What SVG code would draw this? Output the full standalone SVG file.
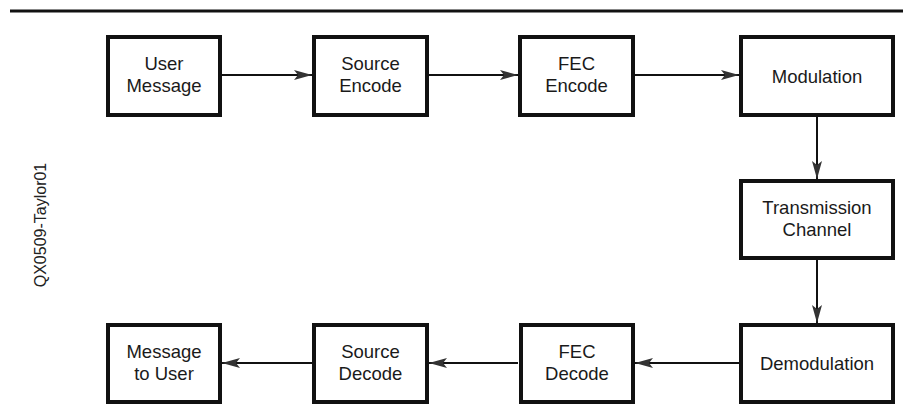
<svg xmlns="http://www.w3.org/2000/svg" width="903" height="420" viewBox="0 0 903 420">
  <style>
    .box { fill: #ffffff; stroke: #111111; stroke-width: 4; }
    .lbl { font-family: "Liberation Sans", Arial, sans-serif; font-size: 18.5px; fill: #1a1a1a; text-anchor: middle; }
    .wire { stroke: #111111; stroke-width: 2; fill: none; }
    .tag { font-family: "Liberation Sans", Arial, sans-serif; font-size: 16px; fill: #222222; text-anchor: middle; }
  </style>
  <defs>
    <marker id="arrow" viewBox="0 0 18 10" refX="18" refY="5" markerWidth="18" markerHeight="10" markerUnits="userSpaceOnUse" orient="auto">
      <path d="M0,0 L18,5 L0,10 L4,5 Z" fill="#333333"/>
    </marker>
  </defs>

  <rect width="903" height="420" fill="#ffffff"/>
  <!-- header rule -->
  <line x1="10" y1="11" x2="903" y2="11" stroke="#111111" stroke-width="3"/>

  <!-- figure tag -->
  <text class="tag" transform="translate(46,225) rotate(-90)">QX0509-Taylor01</text>

  <!-- connectors -->
  <g id="connectors">
    <line class="wire" x1="221" y1="75" x2="312" y2="75" marker-end="url(#arrow)"/>
    <line class="wire" x1="428" y1="75" x2="518" y2="75" marker-end="url(#arrow)"/>
    <line class="wire" x1="634" y1="75" x2="739" y2="75" marker-end="url(#arrow)"/>
    <line class="wire" x1="817" y1="116" x2="817" y2="179" marker-end="url(#arrow)"/>
    <line class="wire" x1="817" y1="259" x2="817" y2="323" marker-end="url(#arrow)"/>
    <line class="wire" x1="739" y1="363" x2="635" y2="363" marker-end="url(#arrow)"/>
    <line class="wire" x1="518" y1="363" x2="429" y2="363" marker-end="url(#arrow)"/>
    <line class="wire" x1="312" y1="363" x2="222" y2="363" marker-end="url(#arrow)"/>
  </g>

  <!-- top row -->
  <g id="user-message">
    <rect class="box" x="108" y="37" width="112" height="78"/>
    <text class="lbl" x="164" y="70">User</text>
    <text class="lbl" x="164" y="92">Message</text>
  </g>
  <g id="source-encode">
    <rect class="box" x="314" y="37" width="113" height="78"/>
    <text class="lbl" x="370.5" y="70">Source</text>
    <text class="lbl" x="370.5" y="92">Encode</text>
  </g>
  <g id="fec-encode">
    <rect class="box" x="520" y="37" width="113" height="78"/>
    <text class="lbl" x="576.5" y="70">FEC</text>
    <text class="lbl" x="576.5" y="92">Encode</text>
  </g>
  <g id="modulation">
    <rect class="box" x="741" y="37" width="152" height="78"/>
    <text class="lbl" x="817" y="82.5">Modulation</text>
  </g>

  <!-- right column -->
  <g id="transmission-channel">
    <rect class="box" x="741" y="181" width="152" height="77"/>
    <text class="lbl" x="817" y="214">Transmission</text>
    <text class="lbl" x="817" y="236">Channel</text>
  </g>
  <g id="demodulation">
    <rect class="box" x="741" y="325" width="152" height="77"/>
    <text class="lbl" x="817" y="370">Demodulation</text>
  </g>

  <!-- bottom row -->
  <g id="fec-decode">
    <rect class="box" x="521" y="325" width="112" height="77"/>
    <text class="lbl" x="577" y="358">FEC</text>
    <text class="lbl" x="577" y="380">Decode</text>
  </g>
  <g id="source-decode">
    <rect class="box" x="314" y="325" width="113" height="77"/>
    <text class="lbl" x="370.5" y="358">Source</text>
    <text class="lbl" x="370.5" y="380">Decode</text>
  </g>
  <g id="message-to-user">
    <rect class="box" x="108" y="325" width="112" height="77"/>
    <text class="lbl" x="164" y="358">Message</text>
    <text class="lbl" x="164" y="380">to User</text>
  </g>
</svg>
